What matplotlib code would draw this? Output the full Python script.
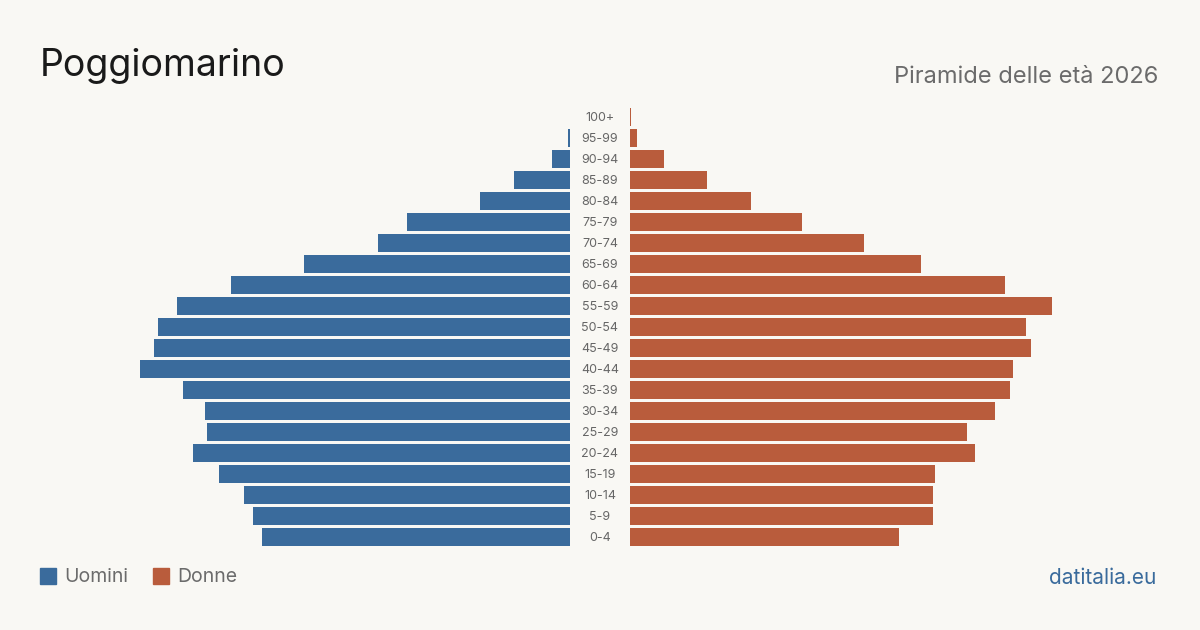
import matplotlib
matplotlib.use("Agg")
import matplotlib.pyplot as plt
from matplotlib.patches import Rectangle

age_groups = ["100+", "95-99", "90-94", "85-89", "80-84", "75-79", "70-74", "65-69",
              "60-64", "55-59", "50-54", "45-49", "40-44", "35-39", "30-34", "25-29",
              "20-24", "15-19", "10-14", "5-9", "0-4"]
men = [0, 2, 18, 56, 90, 163, 192, 266, 339, 393, 412, 416, 430, 387, 365, 363,
       377, 351, 326, 317, 308]
women = [1, 7, 34, 77, 121, 172, 234, 291, 375, 422, 396, 401, 383, 380, 365, 337,
         345, 305, 303, 303, 269]

BG = "#f9f8f4"
BLUE = "#3a6b9c"
ORANGE = "#b95c3c"
W, H = 1200, 630
plt.rcParams['font.family'] = ['Inter', 'DejaVu Sans']

fig = plt.figure(figsize=(12, 6.3), dpi=100, facecolor=BG)

n = len(age_groups)
top_px, bot_px = 106.5, 547.5
bottom = 1 - bot_px / H
height = (bot_px - top_px) / H
scale = 530

axL = fig.add_axes([40 / W, bottom, 530 / W, height])
axR = fig.add_axes([630 / W, bottom, 530 / W, height])
ypos = list(range(n))
for ax in (axL, axR):
    ax.set_facecolor("none")
    ax.set_ylim(n - 0.5, -0.5)
    ax.axis("off")
axL.barh(ypos, men, height=0.81, color=BLUE)
axL.set_xlim(scale, 0)
axR.barh(ypos, women, height=0.81, color=ORANGE)
axR.set_xlim(0, scale)

for i, lab in enumerate(age_groups):
    y = 1 - (top_px + (i + 0.5) * 21 + 1) / H
    fig.text(600 / W, y, lab, ha="center", va="center", fontsize=9, color="#666666")

fig.text(40 / W, 1 - 66 / H, "Poggiomarino", ha="left", va="center", fontsize=27, color="#1a1a1a")
fig.text(1158 / W, 1 - 77 / H, "Piramide delle età 2026", ha="right", va="center",
         fontsize=17, color="#6b6b6b")

fig.patches.append(Rectangle((40 / W, 1 - 584 / H), 16 / W, 16 / H, transform=fig.transFigure,
                             color=BLUE))
fig.text(64 / W, 1 - 577.5 / H, "Uomini", ha="left", va="center", fontsize=14, color="#6b6b6b")
fig.patches.append(Rectangle((153 / W, 1 - 584 / H), 16 / W, 16 / H, transform=fig.transFigure,
                             color=ORANGE))
fig.text(177 / W, 1 - 577.5 / H, "Donne", ha="left", va="center", fontsize=14, color="#6b6b6b")
fig.text(1156 / W, 1 - 577.5 / H, "datitalia.eu", ha="right", va="center", fontsize=15, color=BLUE)

fig.savefig("out.png", dpi=100, facecolor=BG)
